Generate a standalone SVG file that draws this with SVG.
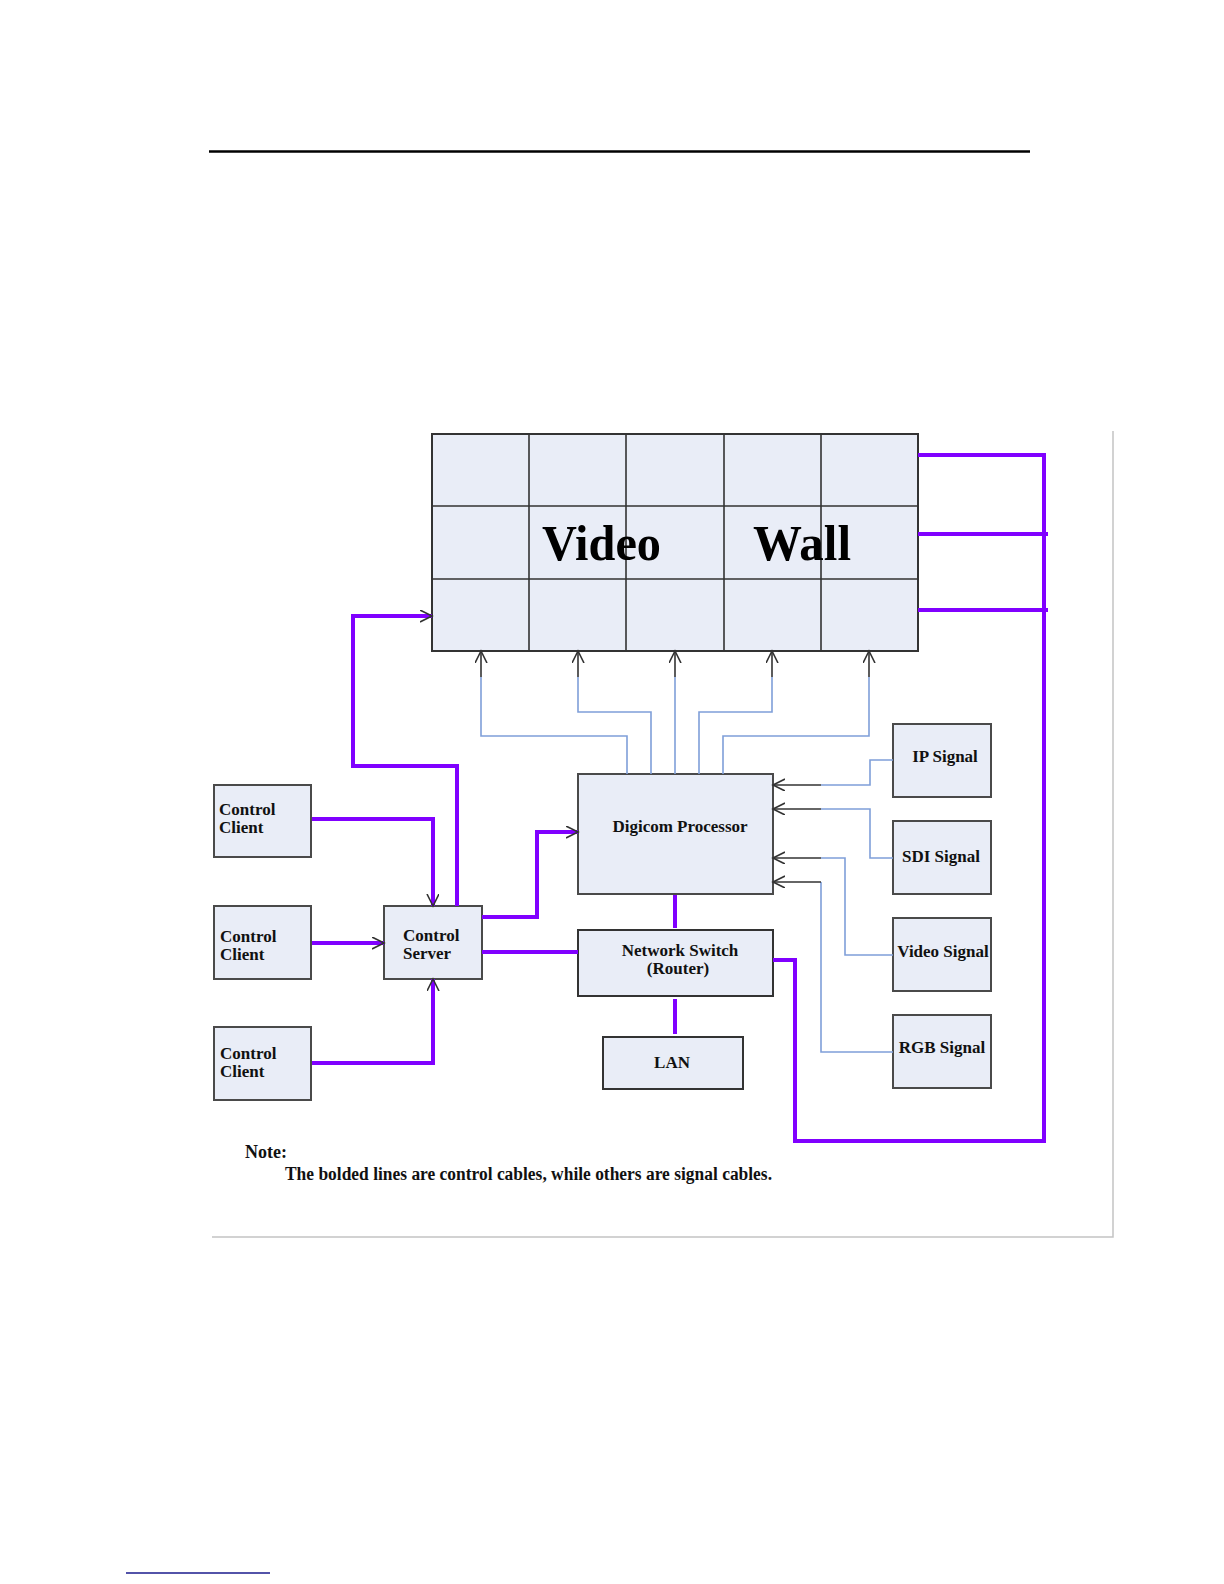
<svg xmlns="http://www.w3.org/2000/svg" width="1224" height="1584" viewBox="0 0 1224 1584">
<style>
.box{fill:#e9edf7;stroke:#4a4a4a;stroke-width:2}
.grid{fill:none;stroke:#333;stroke-width:1.6}
.ctl{fill:none;stroke:#8000ff;stroke-width:4;stroke-linejoin:miter}
.sig{fill:none;stroke:#7f9fd9;stroke-width:1.6}
.drk{fill:none;stroke:#333;stroke-width:1.6}
.t{font-family:"Liberation Serif","Times New Roman",serif;font-weight:bold;font-size:17px;fill:#111}
.big{font-family:"Liberation Serif","Times New Roman",serif;font-weight:bold;font-size:50px;fill:#000}
</style>
<defs>
<marker id="arr" markerUnits="userSpaceOnUse" markerWidth="14" markerHeight="14" refX="12" refY="6" orient="auto">
<path d="M0,0 L12,6 L0,12" fill="none" stroke="#333" stroke-width="1.6"/>
</marker>
</defs>
<rect width="1224" height="1584" fill="#fff"/>
<line x1="209" y1="151.5" x2="1030" y2="151.5" stroke="#000" stroke-width="2.5"/>
<line x1="126" y1="1573" x2="270" y2="1573" stroke="#1a1a8c" stroke-width="1.5"/>
<path d="M1113,431 V1237 H212" fill="none" stroke="#c4c4c4" stroke-width="1.5"/>

<g id="video-wall">
<rect class="box" x="432" y="434" width="486" height="217" style="stroke:#333"/>
<path class="grid" d="M529,434 V651 M626,434 V651 M724,434 V651 M821,434 V651 M432,506 H918 M432,579 H918"/>
<text class="big" x="542" y="560" textLength="119" lengthAdjust="spacingAndGlyphs">Video</text>
<text class="big" x="753" y="560" textLength="98" lengthAdjust="spacingAndGlyphs">Wall</text>
</g>

<g id="control-client-1">
<rect class="box" x="214" y="785" width="97" height="72"/>
<text class="t" x="219" y="815">Control</text>
<text class="t" x="219" y="833">Client</text>
</g>
<g id="control-client-2">
<rect class="box" x="214" y="906" width="97" height="73"/>
<text class="t" x="220" y="942">Control</text>
<text class="t" x="220" y="960">Client</text>
</g>
<g id="control-client-3">
<rect class="box" x="214" y="1027" width="97" height="73"/>
<text class="t" x="220" y="1059">Control</text>
<text class="t" x="220" y="1077">Client</text>
</g>
<g id="control-server">
<rect class="box" x="384" y="906" width="98" height="73"/>
<text class="t" x="403" y="941">Control</text>
<text class="t" x="403" y="959">Server</text>
</g>
<g id="digicom-processor">
<rect class="box" x="578" y="774" width="195" height="120"/>
<text class="t" x="680" y="832" text-anchor="middle">Digicom Processor</text>
</g>
<g id="network-switch">
<rect class="box" x="578" y="930" width="195" height="66" style="stroke:#333"/>
<text class="t" x="680" y="956" text-anchor="middle">Network Switch</text>
<text class="t" x="678" y="974" text-anchor="middle">(Router)</text>
</g>
<g id="lan">
<rect class="box" x="603" y="1037" width="140" height="52" style="stroke:#333"/>
<text class="t" x="672" y="1068" text-anchor="middle">LAN</text>
</g>
<g id="ip-signal">
<rect class="box" x="893" y="724" width="98" height="73"/>
<text class="t" x="945" y="762" text-anchor="middle">IP Signal</text>
</g>
<g id="sdi-signal">
<rect class="box" x="893" y="821" width="98" height="73"/>
<text class="t" x="941" y="862" text-anchor="middle">SDI Signal</text>
</g>
<g id="video-signal">
<rect class="box" x="893" y="918" width="98" height="73"/>
<text class="t" x="943" y="957" text-anchor="middle">Video Signal</text>
</g>
<g id="rgb-signal">
<rect class="box" x="893" y="1015" width="98" height="73"/>
<text class="t" x="942" y="1053" text-anchor="middle">RGB Signal</text>
</g>

<g id="connectors">
<path class="ctl" d="M312,819 H433 V906" marker-end="url(#arr)"/>
<path class="ctl" d="M312,943 H384" marker-end="url(#arr)"/>
<path class="ctl" d="M312,1063 H433 V979" marker-end="url(#arr)"/>
<path class="ctl" d="M457,906 V766 H353 V616 H432" marker-end="url(#arr)"/>
<path class="ctl" d="M482,917 H537 V832 H578" marker-end="url(#arr)"/>
<path class="ctl" d="M482,952 H578"/>
<path class="ctl" d="M675,895 V928"/>
<path class="ctl" d="M675,999 V1034"/>
<path class="ctl" d="M918,455 H1044 V1141 H795 V960 H773"/>
<path class="ctl" d="M918,534 H1048 M918,610 H1048"/>

<path class="sig" d="M627,774 V736 H481 V677"/>
<path class="drk" d="M481,677 V651" marker-end="url(#arr)"/>
<path class="sig" d="M651,774 V712 H578 V677"/>
<path class="drk" d="M578,677 V651" marker-end="url(#arr)"/>
<path class="sig" d="M675,774 V677"/>
<path class="drk" d="M675,677 V651" marker-end="url(#arr)"/>
<path class="sig" d="M699,774 V712 H772 V677"/>
<path class="drk" d="M772,677 V651" marker-end="url(#arr)"/>
<path class="sig" d="M723,774 V736 H869 V677"/>
<path class="drk" d="M869,677 V651" marker-end="url(#arr)"/>

<path class="sig" d="M893,760 H870 V785 H821"/>
<path class="drk" d="M821,785 H773" marker-end="url(#arr)"/>
<path class="sig" d="M893,858 H870 V809 H821"/>
<path class="drk" d="M821,809 H773" marker-end="url(#arr)"/>
<path class="sig" d="M893,955 H845 V858 H821"/>
<path class="drk" d="M821,858 H773" marker-end="url(#arr)"/>
<path class="sig" d="M893,1052 H821 V882"/>
<path class="drk" d="M821,882 H773" marker-end="url(#arr)"/>
</g>

<text class="t" x="245" y="1158" style="font-size:18px">Note:</text>
<text class="t" x="285" y="1180" style="font-size:18px" textLength="487" lengthAdjust="spacingAndGlyphs">The bolded lines are control cables, while others are signal cables.</text>
</svg>
